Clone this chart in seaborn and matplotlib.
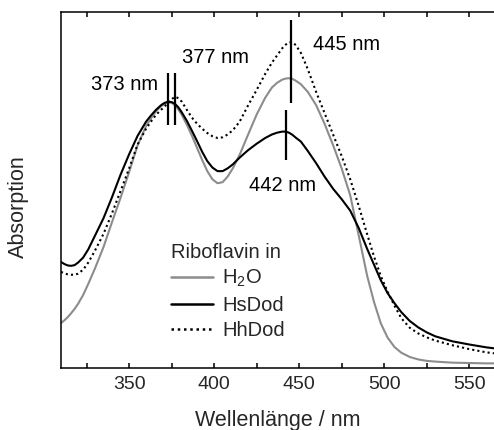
import numpy as np
import pandas as pd
import matplotlib
matplotlib.use("Agg")
import matplotlib.pyplot as plt
from matplotlib.ticker import MultipleLocator
import seaborn as sns

# Absorption spectra of riboflavin (arbitrary units)
wavelength = [310, 312, 314, 316, 318, 320, 323, 326, 330, 335, 340, 345, 350,
              355, 360, 363, 366, 369, 371, 373, 375, 377, 379, 381, 384, 387,
              390, 393, 396, 399, 402, 405, 408, 411, 415, 420, 425, 430, 434,
              437, 440, 442, 444, 446, 448, 451, 455, 460, 465, 470, 475, 480,
              485, 490, 494, 498, 502, 506, 510, 515, 520, 525, 530, 540, 550,
              560, 565]

abs_h2o = [0.126, 0.134, 0.143, 0.154, 0.166, 0.180, 0.205, 0.236, 0.280, 0.340,
           0.410, 0.478, 0.550, 0.625, 0.680, 0.702, 0.722, 0.736, 0.742, 0.746,
           0.745, 0.738, 0.726, 0.711, 0.683, 0.652, 0.618, 0.584, 0.553, 0.530,
           0.519, 0.522, 0.538, 0.561, 0.599, 0.656, 0.712, 0.759, 0.788, 0.801,
           0.810, 0.813, 0.814, 0.812, 0.807, 0.797, 0.776, 0.738, 0.685, 0.625,
           0.560, 0.485, 0.372, 0.258, 0.185, 0.125, 0.085, 0.059, 0.043, 0.031,
           0.024, 0.020, 0.018, 0.015, 0.014, 0.013, 0.013]

abs_hsdod = [0.298, 0.292, 0.288, 0.287, 0.289, 0.296, 0.310, 0.333, 0.372, 0.421,
             0.480, 0.543, 0.600, 0.652, 0.692, 0.710, 0.726, 0.739, 0.745, 0.748,
             0.747, 0.742, 0.732, 0.718, 0.694, 0.666, 0.637, 0.607, 0.581, 0.563,
             0.553, 0.553, 0.561, 0.572, 0.591, 0.612, 0.630, 0.646, 0.656, 0.661,
             0.664, 0.664, 0.661, 0.655, 0.647, 0.636, 0.610, 0.575, 0.537, 0.503,
             0.474, 0.442, 0.393, 0.334, 0.290, 0.246, 0.210, 0.182, 0.157, 0.132,
             0.114, 0.100, 0.089, 0.075, 0.066, 0.058, 0.055]

abs_hhdod = [0.270, 0.266, 0.263, 0.262, 0.262, 0.265, 0.276, 0.296, 0.330, 0.377,
             0.435, 0.497, 0.560, 0.628, 0.672, 0.693, 0.712, 0.726, 0.735, 0.745,
             0.755, 0.762, 0.758, 0.748, 0.725, 0.703, 0.686, 0.672, 0.660, 0.651,
             0.646, 0.648, 0.656, 0.668, 0.692, 0.738, 0.781, 0.826, 0.858, 0.878,
             0.898, 0.908, 0.915, 0.915, 0.907, 0.885, 0.840, 0.775, 0.715, 0.655,
             0.595, 0.530, 0.455, 0.375, 0.313, 0.258, 0.214, 0.175, 0.140, 0.113,
             0.097, 0.086, 0.077, 0.064, 0.053, 0.044, 0.041]

series_labels = ["H$_{2}$O", "HsDod", "HhDod"]

# Band maxima: position, marker span, label and label anchor
peak_nm = [373, 377, 445, 442]
peak_lo = [0.683, 0.683, 0.745, 0.584]
peak_hi = [0.828, 0.828, 0.978, 0.725]
peak_text = ["373 nm", "377 nm", "445 nm", "442 nm"]
peak_text_x = [367.1, 381.4, 458.2, 420.6]
peak_text_y = [0.781, 0.856, 0.893, 0.498]
peak_text_ha = ["right", "left", "left", "left"]

sns.set_theme(style="ticks")
plt.rcParams["font.family"] = ["Liberation Sans", "DejaVu Sans"]
plt.rcParams["mathtext.fontset"] = "custom"
plt.rcParams["mathtext.rm"] = "Liberation Sans"
plt.rcParams["mathtext.it"] = "Liberation Sans:italic"
plt.rcParams["mathtext.bf"] = "Liberation Sans:bold"

df = pd.DataFrame({
    "wl": wavelength * 3,
    "A": abs_h2o + abs_hsdod + abs_hhdod,
    "solvent": [series_labels[0]] * len(wavelength)
               + [series_labels[1]] * len(wavelength)
               + [series_labels[2]] * len(wavelength),
})

fig = plt.figure(figsize=(4.94, 4.30), dpi=100)
ax = fig.add_axes([61 / 494, 62 / 430, 433 / 494, 356 / 430])

colors = {series_labels[0]: "#8c8c8c", series_labels[1]: "black", series_labels[2]: "black"}
dashes = {series_labels[0]: "", series_labels[1]: "", series_labels[2]: (1, 1.5)}

sns.lineplot(data=df, x="wl", y="A", hue="solvent", style="solvent",
             palette=colors, dashes=dashes, hue_order=series_labels,
             style_order=series_labels, linewidth=1.5, ax=ax, legend=True)

ax.vlines(peak_nm, peak_lo, peak_hi, colors="black", linewidth=1.6)
for t, x, y, ha in zip(peak_text, peak_text_x, peak_text_y, peak_text_ha):
    ax.text(x, y, t, ha=ha, va="baseline", fontsize=14.5, color="black")

ax.set_xlim(310, 564.5)
ax.set_ylim(0, 1)
ax.set_yticks([])
ax.xaxis.set_major_locator(MultipleLocator(50))
ax.xaxis.set_minor_locator(MultipleLocator(25))
ax.tick_params(axis="x", which="both", direction="in", top=True, bottom=True,
               length=3.8, width=1.1, color="black", labelsize=14, pad=6)
for s in ["left", "top", "bottom"]:
    ax.spines[s].set_linewidth(1.1)
    ax.spines[s].set_color("black")
ax.spines["right"].set_visible(False)

ax.set_xlabel("Wellenlänge / nm", fontsize=15.5, labelpad=12)
ax.set_ylabel("Absorption", fontsize=15.5)
ax.yaxis.set_label_coords(-0.074, 0.454)

leg = ax.legend(title="Riboflavin in", loc="upper left", bbox_to_anchor=(0.254, 0.352),
                frameon=False, fontsize=14.5, title_fontsize=14.5, alignment="left",
                handlelength=2.1, handletextpad=0.45, labelspacing=0.32,
                borderpad=0, borderaxespad=0)
for line in leg.get_lines():
    line.set_linewidth(1.8)

fig.savefig("out.png", dpi=100)
